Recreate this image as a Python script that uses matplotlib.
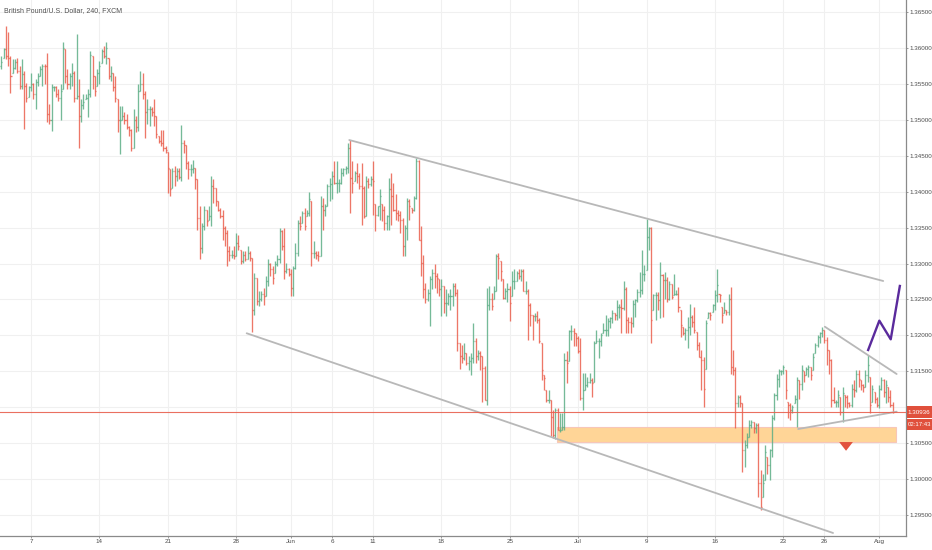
import numpy as np
import pandas as pd
import matplotlib
matplotlib.use('Agg')
import matplotlib.pyplot as plt
from matplotlib import transforms
from matplotlib.patches import Rectangle

TITLE = "British Pound/U.S. Dollar, 240, FXCM"

# ---------------- OHLC data (4h bars, GBP/USD) ----------------
first_open = 1.3575

high = [
    1.3588,1.3600,1.3630,1.3621,1.3588,1.3584,
    1.3584,1.3586,1.3575,1.3584,1.3568,1.3551,
    1.3547,1.3565,1.3551,1.3556,1.3565,1.3575,
    1.3577,1.3577,1.3593,1.3521,1.3549,1.3547,
    1.3547,1.3542,1.3549,1.3607,1.3598,1.3570,
    1.3565,1.3579,1.3568,1.3619,1.3556,1.3528,
    1.3535,1.3535,1.3542,1.3595,1.3588,1.3561,
    1.3570,1.3581,1.3598,1.3602,1.3607,1.3586,
    1.3575,1.3565,1.3561,1.3528,1.3519,1.3519,
    1.3510,1.3507,1.3491,1.3487,1.3514,1.3505,
    1.3549,1.3568,1.3565,1.3540,1.3528,1.3519,
    1.3517,1.3528,1.3505,1.3477,
    1.3486,1.3486,1.3463,1.3455,1.3431,1.3433,
    1.3435,1.3433,1.3433,1.3493,1.3472,1.3465,
    1.3442,1.3438,1.3444,1.3433,1.3417,1.3380,
    1.3356,1.3380,1.3375,1.3380,1.3421,1.3417,
    1.3405,1.3387,1.3377,1.3375,1.3352,1.3347,
    1.3324,1.3319,1.3324,1.3343,1.3340,1.3319,
    1.3317,1.3317,1.3324,1.3317,1.3308,1.3287,
    1.3280,1.3262,1.3262,1.3266,1.3282,1.3306,
    1.3301,1.3296,1.3303,1.3312,1.3350,1.3347,
    1.3350,1.3301,1.3294,1.3292,1.3296,1.3329,
    1.3361,1.3366,1.3373,1.3377,1.3375,1.3400,
    1.3387,1.3331,1.3317,1.3317,1.3394,1.3391,
    1.3382,1.3410,1.3419,1.3428,1.3442,1.3442,
    1.3417,1.3433,1.3433,1.3435,1.3468,1.3472,
    1.3442,1.3428,1.3440,1.3426,1.3440,1.3407,
    1.3421,1.3419,1.3421,1.3442,1.3382,1.3380,
    1.3403,1.3382,1.3380,1.3368,1.3419,1.3426,
    1.3412,1.3396,1.3375,1.3373,1.3363,1.3354,
    1.3391,1.3389,1.3377,1.3394,1.3447,1.3444,
    1.3352,1.3312,1.3273,1.3264,1.3282,1.3292,
    1.3299,1.3287,1.3278,1.3278,1.3269,1.3264,
    1.3259,1.3264,1.3273,1.3273,1.3264,1.3190,
    1.3187,1.3190,1.3176,1.3171,1.3176,1.3217,
    1.3197,1.3180,1.3178,1.3171,1.3157,1.3266,
    1.3269,1.3259,1.3269,1.3313,1.3315,1.3304,
    1.3278,1.3266,1.3273,1.3269,1.3290,1.3292,
    1.3290,1.3292,1.3292,1.3292,1.3276,1.3264,
    1.3245,1.3229,1.3231,1.3234,1.3224,1.3190,
    1.3145,1.3124,1.3124,1.3110,1.3097,1.3099,
    1.3099,1.3092,1.3092,1.3176,1.3178,1.3208,
    1.3215,1.3210,1.3203,1.3199,1.3197,1.3148,
    1.3148,1.3143,1.3148,1.3141,1.3192,1.3208,
    1.3197,1.3203,1.3217,1.3229,1.3224,
    1.3226,1.3235,1.3231,1.3249,1.3244,1.3251,
    1.3275,1.3268,1.3226,1.3226,1.3249,1.3251,
    1.3265,1.3288,1.3319,1.3298,1.3362,1.3351,
    1.3351,1.3258,1.3261,1.3261,1.3302,1.3286,
    1.3288,1.3281,1.3275,1.3272,1.3286,1.3263,
    1.3268,1.3235,1.3212,1.3210,1.3226,1.3244,
    1.3228,1.3240,1.3205,1.3191,1.3180,1.3170,
    1.3221,1.3233,1.3233,1.3244,1.3263,1.3293,
    1.3258,1.3240,1.3247,1.3235,1.3258,1.3268,
    1.3180,1.3156,1.3117,1.3117,1.3106,1.3055,
    1.3064,1.3083,1.3083,1.3080,1.3078,1.3078,
    1.3013,1.3008,1.3048,1.3031,1.3043,1.3090,
    1.3120,1.3147,1.3154,1.3152,1.3159,1.3152,
    1.3108,1.3106,1.3103,1.3117,1.3143,1.3138,
    1.3159,1.3150,1.3156,1.3159,1.3156,1.3175,
    1.3189,1.3200,1.3205,1.3212,1.3207,1.3198,
    1.3180,1.3168,1.3129,1.3110,1.3124,1.3115,
    1.3129,1.3117,1.3117,1.3108,1.3133,1.3138,
    1.3152,1.3152,1.3138,1.3133,1.3152,1.3173,
    1.3143,1.3131,1.3122,1.3115,1.3131,1.3143,
    1.3140,1.3138,1.3129,1.3124,1.3108,
]

low = [
    1.3570,1.3586,1.3584,1.3575,1.3537,1.3565,
    1.3570,1.3565,1.3542,1.3542,1.3487,1.3524,
    1.3531,1.3540,1.3528,1.3514,1.3547,1.3561,
    1.3547,1.3549,1.3496,1.3494,1.3484,1.3540,
    1.3531,1.3526,1.3500,1.3542,1.3551,1.3542,
    1.3542,1.3547,1.3524,1.3528,1.3461,1.3496,
    1.3514,1.3528,1.3503,1.3531,1.3542,1.3533,
    1.3547,1.3549,1.3579,1.3586,1.3577,1.3556,
    1.3554,1.3540,1.3524,1.3482,1.3452,1.3500,
    1.3494,1.3487,1.3477,1.3456,1.3461,1.3482,
    1.3484,1.3540,1.3528,1.3475,1.3494,1.3491,
    1.3505,1.3491,1.3475,1.3468,
    1.3463,1.3456,1.3454,1.3398,1.3394,1.3405,
    1.3407,1.3414,1.3417,1.3414,1.3454,1.3431,
    1.3417,1.3421,1.3426,1.3403,1.3347,1.3306,
    1.3315,1.3347,1.3352,1.3361,1.3352,1.3384,
    1.3380,1.3373,1.3363,1.3333,1.3324,1.3296,
    1.3303,1.3308,1.3306,1.3310,1.3319,1.3299,
    1.3301,1.3303,1.3306,1.3303,1.3205,1.3229,
    1.3243,1.3241,1.3248,1.3243,1.3255,1.3269,
    1.3282,1.3271,1.3287,1.3296,1.3301,1.3319,
    1.3278,1.3287,1.3282,1.3255,1.3255,1.3292,
    1.3310,1.3347,1.3356,1.3347,1.3366,1.3366,
    1.3296,1.3308,1.3306,1.3303,1.3310,1.3347,
    1.3366,1.3380,1.3387,1.3389,1.3410,1.3398,
    1.3400,1.3410,1.3421,1.3424,1.3426,1.3370,
    1.3398,1.3414,1.3412,1.3403,1.3354,1.3363,
    1.3366,1.3405,1.3407,1.3368,1.3345,1.3366,
    1.3361,1.3359,1.3347,1.3347,1.3347,1.3354,
    1.3373,1.3361,1.3359,1.3343,1.3310,1.3310,
    1.3333,1.3361,1.3370,1.3373,1.3389,1.3333,
    1.3282,1.3252,1.3245,1.3248,1.3213,1.3264,
    1.3266,1.3259,1.3255,1.3227,1.3231,1.3227,
    1.3243,1.3236,1.3241,1.3255,1.3178,1.3153,
    1.3162,1.3166,1.3159,1.3152,1.3145,1.3162,
    1.3162,1.3166,1.3152,1.3108,1.3110,1.3104,
    1.3236,1.3236,1.3250,1.3262,1.3278,1.3276,
    1.3250,1.3250,1.3247,1.3220,1.3255,1.3264,
    1.3276,1.3278,1.3276,1.3262,1.3257,1.3194,
    1.3213,1.3194,1.3220,1.3217,1.3190,1.3138,
    1.3124,1.3108,1.3106,1.3060,1.3058,1.3056,
    1.3069,1.3066,1.3069,1.3069,1.3134,1.3164,
    1.3194,1.3185,1.3185,1.3176,1.3110,1.3097,
    1.3124,1.3129,1.3134,1.3115,1.3136,1.3190,
    1.3169,1.3185,1.3203,1.3199,1.3199,
    1.3210,1.3217,1.3221,1.3221,1.3224,1.3203,
    1.3235,1.3203,1.3203,1.3203,1.3212,1.3226,
    1.3247,1.3254,1.3258,1.3275,1.3291,1.3319,
    1.3189,1.3235,1.3221,1.3235,1.3224,1.3226,
    1.3251,1.3247,1.3249,1.3251,1.3256,1.3256,
    1.3233,1.3198,1.3200,1.3194,1.3182,1.3200,
    1.3212,1.3203,1.3180,1.3170,1.3124,1.3101,
    1.3154,1.3224,1.3221,1.3233,1.3235,1.3247,
    1.3247,1.3217,1.3231,1.3228,1.3228,1.3147,
    1.3145,1.3071,1.3101,1.3101,1.3010,1.3017,
    1.3044,1.3059,1.3071,1.3064,1.3064,1.2976,
    1.2958,1.2976,1.2999,1.3008,1.2999,1.3031,
    1.3082,1.3110,1.3129,1.3145,1.3147,1.3112,
    1.3085,1.3082,1.3092,1.3106,1.3073,1.3112,
    1.3124,1.3136,1.3145,1.3143,1.3138,1.3152,
    1.3175,1.3184,1.3189,1.3198,1.3189,1.3159,
    1.3147,1.3101,1.3106,1.3101,1.3101,1.3089,
    1.3080,1.3101,1.3099,1.3101,1.3101,1.3115,
    1.3122,1.3129,1.3124,1.3122,1.3129,1.3136,
    1.3092,1.3108,1.3106,1.3101,1.3099,1.3124,
    1.3115,1.3106,1.3108,1.3101,1.3092,
]

close = [
    1.3580,1.3598,1.3588,1.3586,1.3560,1.3572,
    1.3580,1.3568,1.3547,1.3563,1.3547,1.3530,
    1.3545,1.3550,1.3535,1.3552,1.3560,1.3570,
    1.3575,1.3574,1.3507,1.3500,1.3545,1.3545,
    1.3535,1.3530,1.3540,1.3600,1.3560,1.3549,
    1.3560,1.3565,1.3530,1.3533,1.3505,1.3520,
    1.3525,1.3530,1.3535,1.3590,1.3560,1.3540,
    1.3565,1.3575,1.3595,1.3588,1.3600,1.3560,
    1.3565,1.3545,1.3530,1.3500,1.3500,1.3505,
    1.3500,1.3490,1.3485,1.3460,1.3500,1.3490,
    1.3540,1.3550,1.3535,1.3510,1.3515,1.3515,
    1.3510,1.3505,1.3480,1.3470,
    1.3468,1.3460,1.3458,1.3433,1.3403,1.3428,
    1.3421,1.3428,1.3420,1.3468,1.3465,1.3440,
    1.3431,1.3431,1.3433,1.3417,1.3363,1.3322,
    1.3352,1.3375,1.3359,1.3366,1.3407,1.3405,
    1.3387,1.3375,1.3366,1.3350,1.3343,1.3317,
    1.3312,1.3312,1.3310,1.3329,1.3324,1.3303,
    1.3312,1.3306,1.3315,1.3308,1.3236,1.3280,
    1.3248,1.3250,1.3257,1.3255,1.3275,1.3299,
    1.3292,1.3280,1.3299,1.3306,1.3345,1.3324,
    1.3290,1.3292,1.3285,1.3266,1.3294,1.3315,
    1.3356,1.3352,1.3370,1.3352,1.3370,1.3390,
    1.3315,1.3315,1.3312,1.3310,1.3380,1.3375,
    1.3380,1.3407,1.3410,1.3421,1.3412,1.3412,
    1.3412,1.3426,1.3431,1.3433,1.3461,1.3419,
    1.3412,1.3426,1.3421,1.3407,1.3405,1.3366,
    1.3414,1.3410,1.3417,1.3414,1.3368,1.3380,
    1.3394,1.3375,1.3356,1.3366,1.3403,1.3394,
    1.3375,1.3370,1.3368,1.3361,1.3324,1.3350,
    1.3387,1.3380,1.3375,1.3391,1.3442,1.3333,
    1.3301,1.3264,1.3250,1.3259,1.3278,1.3287,
    1.3282,1.3280,1.3264,1.3269,1.3245,1.3245,
    1.3255,1.3255,1.3269,1.3259,1.3190,1.3171,
    1.3169,1.3176,1.3162,1.3164,1.3169,1.3192,
    1.3171,1.3176,1.3171,1.3155,1.3110,1.3243,
    1.3250,1.3241,1.3262,1.3310,1.3308,1.3290,
    1.3252,1.3262,1.3264,1.3245,1.3276,1.3276,
    1.3287,1.3283,1.3290,1.3262,1.3262,1.3243,
    1.3229,1.3227,1.3227,1.3222,1.3192,1.3152,
    1.3141,1.3110,1.3110,1.3087,1.3062,1.3097,
    1.3069,1.3069,1.3073,1.3166,1.3162,1.3206,
    1.3206,1.3203,1.3197,1.3178,1.3113,1.3124,
    1.3131,1.3136,1.3138,1.3134,1.3190,1.3192,
    1.3192,1.3201,1.3208,1.3208,1.3220,
    1.3224,1.3231,1.3228,1.3240,1.3240,1.3238,
    1.3265,1.3221,1.3219,1.3217,1.3244,1.3249,
    1.3261,1.3263,1.3286,1.3286,1.3337,1.3349,
    1.3221,1.3256,1.3256,1.3249,1.3284,1.3277,
    1.3277,1.3251,1.3272,1.3254,1.3258,1.3258,
    1.3240,1.3214,1.3203,1.3207,1.3212,1.3226,
    1.3219,1.3207,1.3187,1.3170,1.3166,1.3126,
    1.3217,1.3231,1.3228,1.3242,1.3256,1.3270,
    1.3256,1.3228,1.3235,1.3233,1.3251,1.3156,
    1.3152,1.3106,1.3115,1.3106,1.3041,1.3048,
    1.3059,1.3075,1.3080,1.3071,1.3075,1.2995,
    1.2962,1.2995,1.3038,1.3020,1.3041,1.3085,
    1.3117,1.3140,1.3150,1.3150,1.3156,1.3124,
    1.3103,1.3096,1.3101,1.3112,1.3138,1.3133,
    1.3152,1.3145,1.3154,1.3156,1.3145,1.3170,
    1.3187,1.3198,1.3203,1.3207,1.3194,1.3180,
    1.3166,1.3110,1.3108,1.3108,1.3117,1.3094,
    1.3120,1.3115,1.3106,1.3103,1.3126,1.3124,
    1.3147,1.3140,1.3131,1.3129,1.3145,1.3159,
    1.3103,1.3126,1.3112,1.3103,1.3126,1.3138,
    1.3122,1.3131,1.3115,1.3103,1.30936,
]

# calendar: first bar is the last 4h bar of 2018-05-02, 6 bars per trading day
first_day = "2018-05-02"
last_day = "2018-08-03"
bars_per_day = 6
first_bar_offset = 5

tick_dates = ["2018-05-07", "2018-05-14", "2018-05-21", "2018-05-28", "2018-06-01",
              "2018-06-06", "2018-06-11", "2018-06-18", "2018-06-25", "2018-07-02",
              "2018-07-09", "2018-07-16", "2018-07-23", "2018-07-26", "2018-08-01"]
tick_labels = ["7", "14", "21", "28", "Jun", "6", "11", "18", "25", "Jul",
               "9", "16", "23", "26", "Aug"]

price_ticks = [1.295, 1.300, 1.305, 1.310, 1.315, 1.320, 1.325, 1.330,
               1.335, 1.340, 1.345, 1.350, 1.355, 1.360, 1.365]

last_price = 1.30936
countdown = "02:17:43"

# drawings (bar index, price)
channel_top_x = [152.6, 386.8]
channel_top_y = [1.34715, 1.32757]
channel_bot_x = [107.6, 364.8]
channel_bot_y = [1.32031, 1.29257]
tri_top_x = [361.2, 392.7]
tri_top_y = [1.32122, 1.31465]
tri_bot_x = [349.5, 392.7]
tri_bot_y = [1.30701, 1.30942]
path_x = [380.2, 385.1, 390.1, 394.1]
path_y = [1.31799, 1.32206, 1.31947, 1.32688]
zone_x = [243.6, 392.3]
zone_y = [1.30527, 1.30735]
arrow_x = 370.5
arrow_y = [1.30545, 1.30360]

# ---------------- figure ----------------
W, H = 932, 550
AX_W, AX_H = 906, 536
fig = plt.figure(figsize=(W / 100, H / 100), dpi=100)
fig.patch.set_facecolor("white")
ax = fig.add_axes([0, (H - AX_H) / H, AX_W / W, AX_H / H])
ax.set_facecolor("white")

hi = np.array(high)
lo = np.array(low)
cl = np.array(close)
n = len(cl)
xs = np.arange(n)
op = np.concatenate([[first_open], cl[:-1]])
op = np.clip(op, lo, hi)
up = cl >= op

GREEN = "#5dae86"
RED = "#ea5f4e"
LW = 0.95
for mask, col in ((up, GREEN), (~up, RED)):
    ax.vlines(xs[mask], lo[mask], hi[mask], color=col, lw=LW, alpha=0.85,
              capstyle="butt", zorder=3)
    ax.hlines(op[mask], xs[mask] - 0.45, xs[mask], color=col, lw=LW, alpha=0.85, zorder=3)
    ax.hlines(cl[mask], xs[mask], xs[mask] + 0.45, color=col, lw=LW, alpha=0.85, zorder=3)

# x ticks from trading calendar
bdays = pd.bdate_range(first_day, last_day)
tick_pos = [bars_per_day * bdays.get_loc(pd.Timestamp(d)) - first_bar_offset for d in tick_dates]

YLIM = (1.29215, 1.36660)
ax.set_xlim(-0.6, 396.8)
ax.set_ylim(*YLIM)
ax.set_xticks(tick_pos)
ax.set_xticklabels(tick_labels)
ax.set_yticks(price_ticks)
ax.set_yticklabels([f"{p:.5f}" for p in price_ticks])
ax.yaxis.tick_right()
ax.tick_params(axis="both", labelsize=4.5, colors="#8a8a8a", labelcolor="#4a4a4a",
               length=1.6, width=0.6, pad=0.9)
ax.grid(True, color="#f0f0f0", lw=0.8, zorder=0)
ax.set_axisbelow(True)
for s in ("left", "top"):
    ax.spines[s].set_visible(False)
for s in ("right", "bottom"):
    ax.spines[s].set_color("#8a8a8a")
    ax.spines[s].set_linewidth(0.9)
for lab in ax.get_xticklabels() + ax.get_yticklabels():
    lab.set_family("Liberation Sans")
# the scale label hidden behind the last-price box
for p, lab in zip(price_ticks, ax.get_yticklabels()):
    if abs(p - last_price) < 0.0012:
        lab.set_visible(False)

# zone
ax.add_patch(Rectangle((zone_x[0], zone_y[0]), zone_x[1] - zone_x[0], zone_y[1] - zone_y[0],
                       facecolor="#ffd597", edgecolor="#f7c6b8", lw=0.8, zorder=2))

# trend lines
GREY = "#b8b8b8"
for lx, ly in ((channel_top_x, channel_top_y), (channel_bot_x, channel_bot_y),
               (tri_top_x, tri_top_y), (tri_bot_x, tri_bot_y)):
    ax.plot(lx, ly, color=GREY, lw=1.3, zorder=4, solid_capstyle="round")
ax.plot(path_x, path_y, color="#5a2a9c", lw=1.7, zorder=5)

# arrow
ax.annotate("", xy=(arrow_x, arrow_y[1]), xytext=(arrow_x, arrow_y[0]),
            arrowprops=dict(arrowstyle="simple,head_width=1.1,head_length=0.7,tail_width=0.5",
                            color="#e2533e", lw=0, mutation_scale=9), zorder=6)

# last price line and labels on the price scale
ax.axhline(last_price, color="#e8604f", lw=0.8, alpha=0.9, zorder=4)
trans = transforms.blended_transform_factory(ax.transAxes, ax.transData)
px = (YLIM[1] - YLIM[0]) / AX_H          # price per pixel
box_w = 25.5 / AX_W
LABEL_RED = "#e0503c"
ax.add_patch(Rectangle((1.0 + 0.5 / AX_W, last_price - 6 * px), box_w, 12 * px,
                       transform=trans, facecolor=LABEL_RED, edgecolor="none",
                       clip_on=False, zorder=9))
ax.text(1.0 + 0.5 / AX_W + box_w / 2, last_price, f"{last_price:.5f}", transform=trans,
        ha="center", va="center", fontsize=4.5, color="white", family="Liberation Sans",
        clip_on=False, zorder=10)
cd_center = last_price - 12.5 * px
ax.add_patch(Rectangle((1.0 + 0.5 / AX_W, cd_center - 5.5 * px), box_w, 11 * px,
                       transform=trans, facecolor=LABEL_RED, edgecolor="none",
                       clip_on=False, zorder=9))
ax.text(1.0 + 0.5 / AX_W + box_w / 2, cd_center, countdown, transform=trans,
        ha="center", va="center", fontsize=4.3, color="white", family="Liberation Sans",
        clip_on=False, zorder=10)

fig.text(4 / W, 1 - 11 / H, TITLE, ha="left", va="center", fontsize=5.0,
         color="#505050", family="Liberation Sans")

fig.savefig("out.png", dpi=100, facecolor="white")
